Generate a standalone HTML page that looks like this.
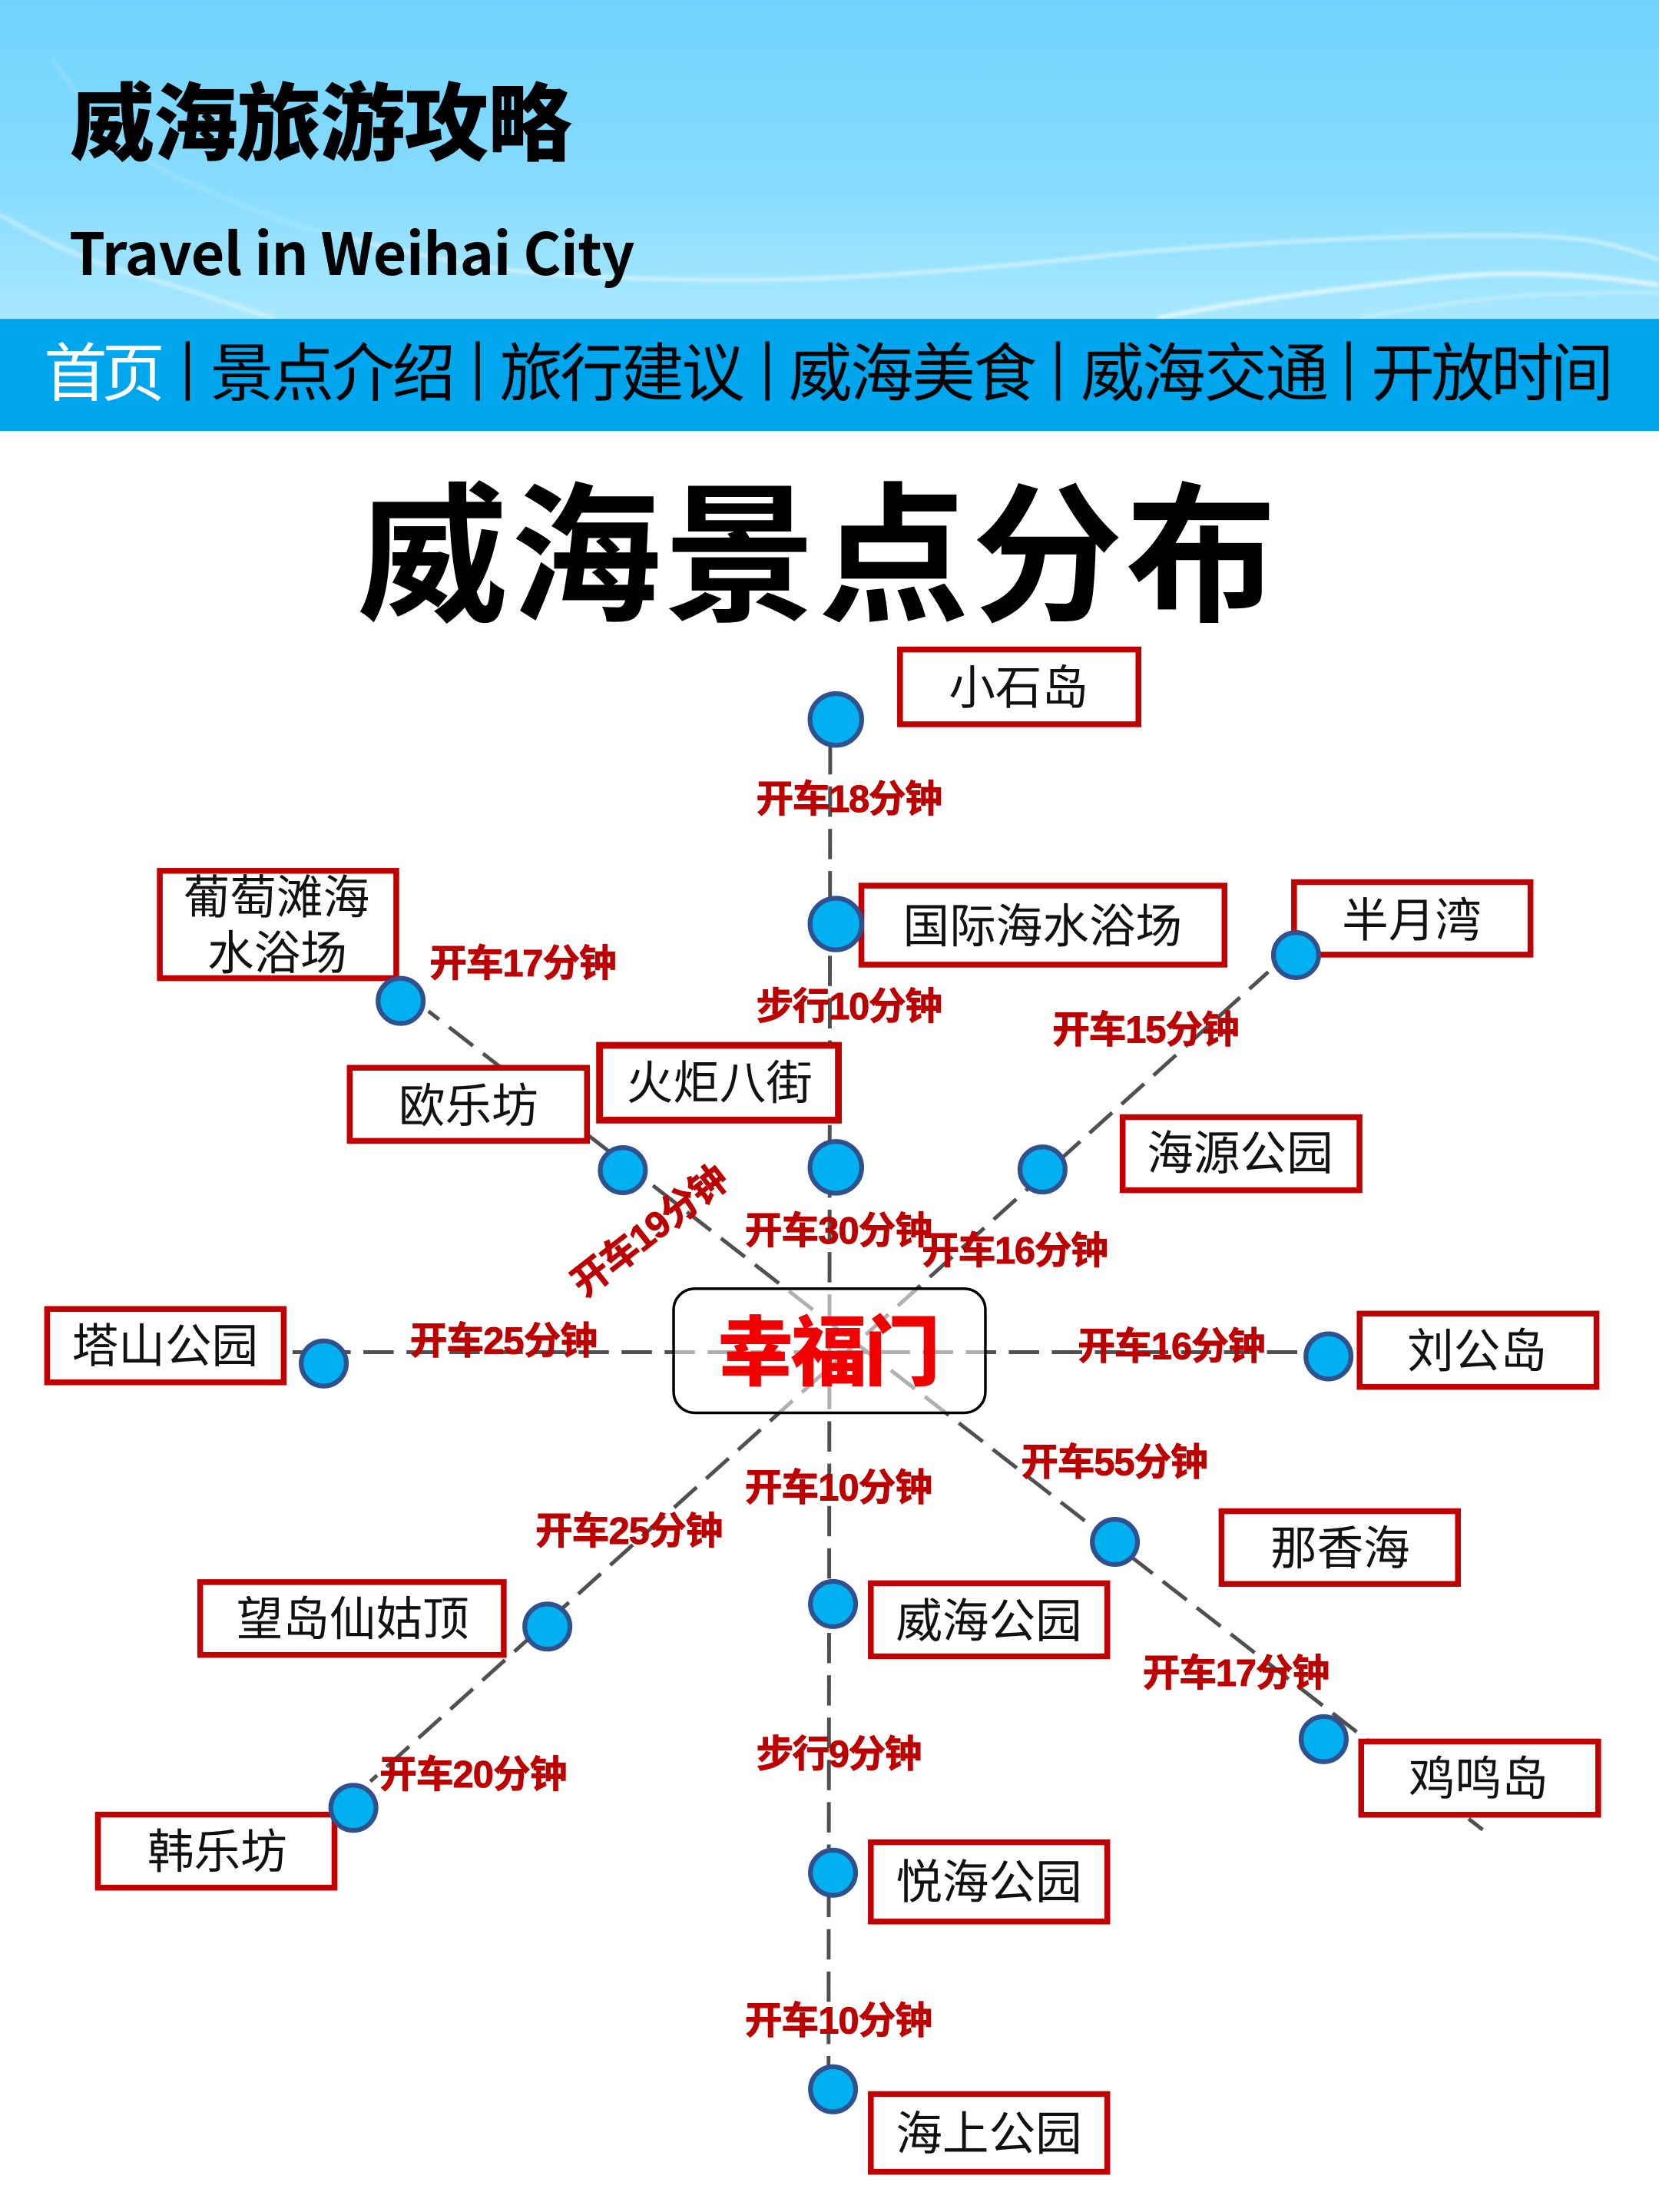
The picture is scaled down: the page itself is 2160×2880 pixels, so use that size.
<!DOCTYPE html>
<html><head><meta charset="utf-8"><style>
html,body{margin:0;padding:0;background:#fff;width:2160px;height:2880px;overflow:hidden}
svg{display:block}
text{font-family:"Liberation Sans","Noto Sans CJK SC",sans-serif}
.b{font-family:"Noto Sans CJK SC","Liberation Sans",sans-serif;font-size:33px;fill:#111;text-anchor:middle}
.l{font-size:26.5px;font-weight:700;fill:#bc0000;stroke:#bc0000;stroke-width:.5}
.n{font-family:"Noto Sans CJK SC",sans-serif;font-size:45px;fill:#050505}
.d{stroke:#505050;stroke-width:2.7;fill:none;stroke-dasharray:21.5 9}
.r{fill:#fff;stroke:#c00000;stroke-width:4.1}
.c{fill:#00b0f0;stroke:#2f528f;stroke-width:3.4}
.w{fill:none;stroke:#fff}
</style></head><body>
<svg width="2160" height="2880" viewBox="0 0 1176 1568" xmlns="http://www.w3.org/2000/svg">
<defs>
<linearGradient id="g" x1="0" y1="0" x2="0" y2="1"><stop offset="0" stop-color="#6fd3fd"/><stop offset=".6" stop-color="#88dcfe"/><stop offset="1" stop-color="#a8e8fe"/></linearGradient>
<filter id="bl" x="-5%" y="-20%" width="110%" height="140%"><feGaussianBlur stdDeviation="1.2"/></filter>
</defs>
<rect width="1176" height="1568" fill="#fff"/>
<rect width="1176" height="226" fill="url(#g)"/>
<g class="w" filter="url(#bl)">
<path d="M37 42C70 90 100 115 131 128S200 160 244 168" stroke-width="3" stroke-opacity=".14"/>
<path d="M244 168S320 188 375 193S520 200 588 197S720 188 775 182S950 168 1038 167S1140 172 1176 184" stroke-width="2.5" stroke-opacity=".55"/>
<path d="M0 152C30 170 60 185 100 196S170 218 195 226" stroke-width="3" stroke-opacity=".4"/>
<path d="M820 226C880 212 960 204 1010 198S1110 192 1176 202" stroke-width="3" stroke-opacity=".7"/>
<path d="M963 226C1000 218 1060 210 1090 209S1150 207 1176 208" stroke-width="2" stroke-opacity=".35"/>
</g>
<text x="49.5" y="109" font-size="60" font-weight="900" fill="#000" textLength="356" style="font-family:'Noto Sans CJK SC',sans-serif">威海旅游攻略</text>
<text x="49" y="195" font-size="41" font-weight="700" fill="#000" textLength="401" style="font-family:'Noto Sans CJK SC',sans-serif">Travel in Weihai City</text>
<rect y="226" width="1176" height="79.5" fill="#00a6ed"/>
<text class="n" x="31" y="280.5" textLength="86" style="fill:#fff">首页</text>
<text class="n" x="149" y="280.5" textLength="174">景点介绍</text>
<text class="n" x="354" y="280.5" textLength="174">旅行建议</text>
<text class="n" x="559" y="280.5" textLength="176">威海美食</text>
<text class="n" x="766" y="280.5" textLength="176">威海交通</text>
<text class="n" x="972" y="280.5" textLength="172">开放时间</text>
<g stroke="#050505" stroke-width="3">
<line x1="133" y1="242" x2="133" y2="284"/><line x1="338.6" y1="242" x2="338.6" y2="284"/><line x1="544" y1="242" x2="544" y2="284"/><line x1="750" y1="242" x2="750" y2="284"/><line x1="956" y1="242" x2="956" y2="284"/>
</g>
<text x="253" y="432" font-size="107" font-weight="700" fill="#000" textLength="652" style="font-family:'Noto Sans CJK SC',sans-serif">威海景点分布</text>

<line class="d" x1="207.4" y1="958.5" x2="925" y2="958.5" stroke-dashoffset="10.8"/>
<line class="d" x1="588.5" y1="527.5" x2="587.3" y2="1480" style="stroke-dasharray:21.5 8.5"/>
<line class="d" x1="262.5" y1="1262.8" x2="899" y2="689" stroke-dashoffset="15"/>
<line class="d" x1="303.7" y1="716.8" x2="1051" y2="1297" stroke-dashoffset="12"/>

<rect x="477.5" y="913.5" width="221" height="88" rx="15" fill="#fff" fill-opacity=".55" stroke="#000" stroke-width="1.9"/>
<text x="508.5" y="977.5" font-size="54" font-weight="900" fill="#f00000" textLength="158" style="font-family:'Noto Sans CJK SC',sans-serif">幸福门</text>

<rect class="r" x="638" y="460.4" width="169" height="53"/>
<rect class="r" x="610.6" y="627.8" width="257.4" height="56"/>
<rect class="r" x="917.3" y="625.3" width="167.6" height="51.4"/>
<rect class="r" x="795.8" y="791.9" width="167.9" height="51.8"/>
<rect class="r" x="963.8" y="931.2" width="167.9" height="51.9"/>
<rect class="r" x="113.3" y="617.3" width="167.6" height="76.1"/>
<rect class="r" x="247.9" y="756.9" width="168.2" height="51.8"/>
<rect class="r" x="425" y="741" width="169.3" height="53" style="stroke-width:4.8"/>
<rect class="r" x="33.4" y="927.9" width="167.7" height="52"/>
<rect class="r" x="141.9" y="1121.5" width="215.2" height="51.6"/>
<rect class="r" x="69.4" y="1286.3" width="167.7" height="51.8"/>
<rect class="r" x="865.9" y="1071.2" width="167.6" height="51.6"/>
<rect class="r" x="617.3" y="1122.3" width="167.6" height="51.8"/>
<rect class="r" x="617.3" y="1305.9" width="167.6" height="56.2"/>
<rect class="r" x="617.3" y="1484.4" width="167.6" height="55.1"/>
<rect class="r" x="964.9" y="1234.5" width="168" height="51.9"/>

<circle class="c" cx="592.5" cy="510" r="18.3"/>
<circle class="c" cx="592.5" cy="655" r="18.3"/>
<circle class="c" cx="592.5" cy="827.5" r="18.3"/>
<circle class="c" cx="284" cy="709.5" r="16"/>
<circle class="c" cx="441.5" cy="829.5" r="16"/>
<circle class="c" cx="739" cy="829" r="16"/>
<circle class="c" cx="918.7" cy="677" r="16"/>
<circle class="c" cx="229.5" cy="966.5" r="16"/>
<circle class="c" cx="941.7" cy="961.5" r="16"/>
<circle class="c" cx="388" cy="1153" r="16"/>
<circle class="c" cx="250.5" cy="1281.5" r="16"/>
<circle class="c" cx="790.3" cy="1093" r="16"/>
<circle class="c" cx="938.3" cy="1232.8" r="16"/>
<circle class="c" cx="590.5" cy="1137" r="16"/>
<circle class="c" cx="590.5" cy="1327.5" r="16"/>
<circle class="c" cx="590.5" cy="1481" r="16"/>

<text class="b" x="722" y="499">小石岛</text>
<text class="b" x="739" y="668">国际海水浴场</text>
<text class="b" x="1000.7" y="664">半月湾</text>
<text class="b" x="879" y="829">海源公园</text>
<text class="b" x="1047" y="969">刘公岛</text>
<text class="b" x="196" y="647.5">葡萄滩海</text>
<text class="b" x="196.5" y="687">水浴场</text>
<text class="b" x="332" y="795.5">欧乐坊</text>
<text class="b" x="510" y="779">火炬八街</text>
<text class="b" x="117" y="965.5">塔山公园</text>
<text class="b" x="250" y="1159">望岛仙姑顶</text>
<text class="b" x="154" y="1324">韩乐坊</text>
<text class="b" x="950" y="1109">那香海</text>
<text class="b" x="701" y="1160.5">威海公园</text>
<text class="b" x="701" y="1345.5">悦海公园</text>
<text class="b" x="701" y="1524">海上公园</text>
<text class="b" x="1048" y="1272.5">鸡鸣岛</text>

<text class="l" x="536" y="575.5" textLength="132">开车18分钟</text>
<text class="l" x="536" y="722.5" textLength="132">步行10分钟</text>
<text class="l" x="304.5" y="692" textLength="132.5">开车17分钟</text>
<text class="l" x="746" y="739" textLength="132.5">开车15分钟</text>
<text class="l" x="528" y="881.5" textLength="133">开车30分钟</text>
<text class="l" x="653.5" y="895.5" textLength="132">开车16分钟</text>
<text class="l" x="290.6" y="959.5" textLength="133">开车25分钟</text>
<text class="l" x="764" y="963.5" textLength="133">开车16分钟</text>
<text class="l" transform="rotate(-38 460.5 872)" x="394.5" y="881.5" textLength="132">开车19分钟</text>
<text class="l" x="528" y="1063.5" textLength="133">开车10分钟</text>
<text class="l" x="379.5" y="1094.3" textLength="133">开车25分钟</text>
<text class="l" x="723.7" y="1045.5" textLength="132.5">开车55分钟</text>
<text class="l" x="810" y="1195" textLength="132.5">开车17分钟</text>
<text class="l" x="269" y="1267" textLength="133">开车20分钟</text>
<text class="l" x="536" y="1252.5" textLength="117.5">步行9分钟</text>
<text class="l" x="528" y="1441.5" textLength="133">开车10分钟</text>
</svg>
</body></html>
